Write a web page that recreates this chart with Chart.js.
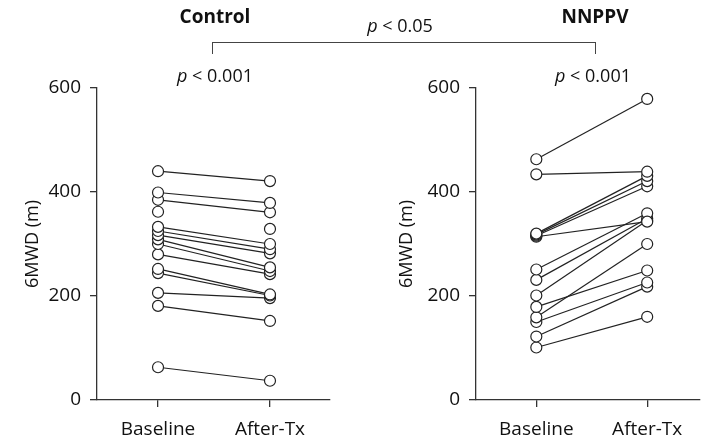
<!DOCTYPE html>
<html lang="en">
<head>
  <meta charset="UTF-8">
  <title>6MWD Control vs NNPPV</title>
  <script src="https://cdn.jsdelivr.net/npm/chart.js"></script>
  <style>
    body { margin: 0; background: #fff; font-family: 'Open Sans', 'Noto Sans', sans-serif; color: #111; }
    #wrap { position: relative; width: 706px; height: 445px; overflow: hidden; }
    .panel { position: absolute; top: 0; width: 353px; height: 445px; }
    .lbl { position: absolute; font-size: 18px; white-space: nowrap; transform: translateX(-50%); }
    .grp { font-weight: bold; font-size: 19px; }
    #bracket { position: absolute; left: 212px; top: 42px; width: 384px; height: 12px;
               border: 1.3px solid #444; border-bottom: none; box-sizing: border-box; }
  </style>
</head>
<body>
<div id="wrap">
  <div class="panel" style="left:0"><canvas id="left"></canvas></div>
  <div class="panel" style="left:353px"><canvas id="right"></canvas></div>

  <!-- textos de arriba -->
  <div class="lbl grp" style="left:215px; top:3px">Control</div>
  <div class="lbl grp" style="left:595px; top:3px">NNPPV</div>
  <div class="lbl" style="left:400px; top:13px"><i>p</i> &lt; 0.05</div>
  <div id="bracket"></div>
  <div class="lbl" style="left:215px; top:63px"><i>p</i> &lt; 0.001</div>
  <div class="lbl" style="left:593px; top:63px"><i>p</i> &lt; 0.001</div>
</div>

<script>
  // categorías y ticks
  const timepoints = ['Baseline', 'After-Tx'];
  const yTicks = [0, 200, 400, 600];

  // grupo Control (cada posición = un paciente)
  const controlBaseline = [440, 399, 385, 362, null, 333, 325, 317, 309, 300, 280, 252, 244, 206, 181, 63];
  const controlAfter    = [421, 379, 361, null, 329, 300, 290, 282, 255, 248, 242, 203, 201, 196, 152, 37];

  // grupo NNPPV
  const nnppvBaseline = [463, 434, 320, 318, 316, 314, 251, 231, 201, 179, 159, 150, 122, 101];
  const nnppvAfter    = [579, 439, 431, 421, 411, 343, 359, 349, 345, 249, 300, 226, 218, 160];

  const fontFam = "'Open Sans', 'Noto Sans', sans-serif";

  function makePanel(id, base, after, yWidth, titlePad, xMin, xMax, padRight) {
    const datasets = base.map((b, i) => ({
      data: [{x: 0, y: b}, {x: 1, y: after[i]}],
      borderColor: '#222',
      borderWidth: 1.2,
      pointRadius: 5.5,
      pointBackgroundColor: '#fff',
      pointBorderColor: '#222',
      pointBorderWidth: 1.2,
      spanGaps: false,
      clip: false
    }));

    new Chart(document.getElementById(id), {
      type: 'line',
      data: { datasets },
      options: {
        responsive: false,
        animation: false,
        events: [],
        layout: { padding: { top: 88, right: padRight, left: 0, bottom: 0 } },
        plugins: { legend: { display: false }, tooltip: { enabled: false } },
        scales: {
          x: {
            type: 'linear', min: xMin, max: xMax,
            afterBuildTicks: s => { s.ticks = [{value: 0}, {value: 1}]; },
            afterFit: s => { s.height = 45; },
            ticks: { callback: v => timepoints[v], color: '#111', font: { size: 19, family: fontFam }, padding: 11, maxRotation: 0 },
            grid: { drawOnChartArea: false, drawTicks: true, tickLength: 7, color: '#333', lineWidth: 1.3 },
            border: { display: true, color: '#333', width: 1.3 }
          },
          y: {
            min: 0, max: 600,
            afterBuildTicks: s => { s.ticks = yTicks.map(v => ({value: v})); },
            afterFit: s => { s.width = yWidth; },
            ticks: { color: '#111', font: { size: 19, family: fontFam }, padding: 9 },
            grid: { drawOnChartArea: false, drawTicks: true, tickLength: 7, color: '#333', lineWidth: 1.3 },
            border: { display: true, color: '#333', width: 1.3 },
            title: { display: true, text: '6MWD (m)', color: '#111', font: { size: 18, family: fontFam }, padding: { top: titlePad, bottom: 0 } }
          }
        }
      }
    });
  }

  document.getElementById('left').width = 353;
  document.getElementById('left').height = 445;
  document.getElementById('right').width = 353;
  document.getElementById('right').height = 445;

  makePanel('left', controlBaseline, controlAfter, 97, 22, -0.545, 1.536, 23);
  makePanel('right', nnppvBaseline, nnppvAfter, 123, 43, -0.544, 1.47, 0);
</script>
</body>
</html>
